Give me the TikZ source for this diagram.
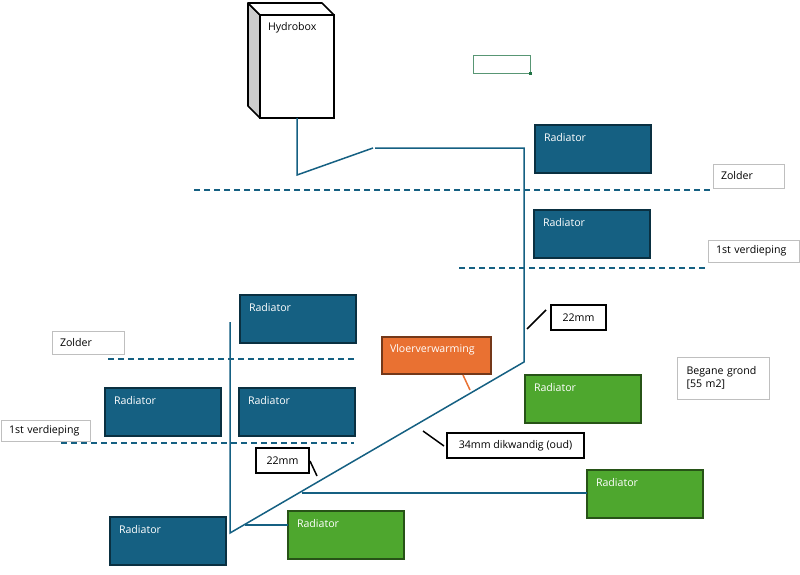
\documentclass[tikz,border=0pt]{standalone}
\usepackage{fontspec}
\setmainfont{Open Sans}
\definecolor{pipeblue}{HTML}{156082}
\definecolor{radgreen}{HTML}{4EA72E}
\definecolor{vloerorange}{HTML}{E97132}
\definecolor{tabgreen}{HTML}{217346}
\begin{document}
\begin{tikzpicture}[
      x=1pt, y=-1pt,
      every node/.style={rectangle, anchor=north west, inner sep=0pt, outer sep=0pt, font=\fontsize{10.6}{12.5}\selectfont},
      rad_text/.style={text=white, anchor=north west, inner xsep=9pt, inner ysep=8pt},
      rad_blue/.style={draw=pipeblue!50!black, line width=1.5pt, fill=pipeblue, minimum width=116pt, minimum height=48pt,
          label={[rad_text]north west:Radiator}},
      rad_green/.style={draw=radgreen!50!black, line width=1.5pt, fill=radgreen, minimum width=116pt, minimum height=48pt,
          label={[rad_text]north west:Radiator}},
      floor_text/.style={draw=black!25, line width=1pt, fill=white, align=left},
      size_text/.style={draw=black, line width=1.5pt, fill=white},
      pipe/.style={draw=pipeblue, line width=1.5pt},
      floor_line/.style={draw=pipeblue, line width=1.5pt, dash pattern=on 6pt off 4pt},
      note_line/.style={draw=black, line width=1.5pt}
  ]
      \useasboundingbox (0,0) rectangle (800,575);

      % Floor lines
      \coordinate (f1a) at (194,190);
      \coordinate (f1b) at (712,190);
      \coordinate (f2a) at (459,268);
      \coordinate (f2b) at (707,268);
      \coordinate (f3a) at (108,359);
      \coordinate (f3b) at (357,359);
      \coordinate (f4a) at (61,443);
      \coordinate (f4b) at (354,443);
      \draw[floor_line] (f1a) -- (f1b);
      \draw[floor_line] (f2a) -- (f2b);
      \draw[floor_line] (f3a) -- (f3b);
      \draw[floor_line] (f4a) -- (f4b);

      % Hydrobox
      \node[draw=black, line width=1.6pt, fill=white, minimum width=74pt, minimum height=103pt] (hydro) at (260,15) {};
      \coordinate (hbackTL) at (248,3);
      \coordinate (hbackTR) at (322,3);
      \coordinate (hbackBL) at (248,106);
      \draw[black, line width=1.6pt, fill=black!20, line join=round] (hydro.north west) -- (hbackTL) -- (hbackBL) -- (hydro.south west) -- cycle;
      \draw[black, line width=1.6pt, fill=white, line join=round] (hydro.north west) -- (hbackTL) -- (hbackTR) -- (hydro.north east) -- cycle;
      \node (hydrotext) at (268,22.5) {Hydrobox};

      % Selected cell
      \node[draw=tabgreen!75, line width=1pt, minimum width=57pt, minimum height=18pt] (cell) at (473,56) {};
      \node[fill=tabgreen, minimum size=3pt, anchor=center] (cellgrip) at (cell.south east) {};

      % Pipes
      \coordinate (p1) at (297,175);
      \coordinate (p2) at (373,148);
      \coordinate (p3) at (375,148);
      \coordinate (p4) at (524,148);
      \coordinate (p5) at (524,362);
      \coordinate (p6) at (230,533);
      \coordinate (p7) at (230,322);
      \coordinate (b1) at (302,493);
      \coordinate (b2) at (245,525);
      \draw[pipe] (hydro.south) -- (p1) -- (p2);
      \draw[pipe] (p3) -- (p4) -- (p5) -- (p6) -- (p7);

      % Blue radiators
      \node[rad_blue] (radA) at (535,125) {};
      \node[rad_blue] (radB) at (534,210) {};
      \node[rad_blue] (radC) at (240,295) {};
      \node[rad_blue] (radD) at (105,388) {};
      \node[rad_blue] (radE) at (239,388) {};
      \node[rad_blue] (radF) at (110,517) {};

      % Green radiators
      \node[rad_green] (radG) at (525,375) {};
      \node[rad_green] (radH) at (587,470) {};
      \node[rad_green] (radI) at (288,511) {};
      \draw[pipe] (b1) -- (b1 -| radH.west);
      \draw[pipe] (b2) -- (b2 -| radI.west);

      % Vloerverwarming
      \node[draw=vloerorange!50!black, line width=1.5pt, fill=vloerorange, text=white, minimum width=109pt, minimum height=37pt] (vloer) at (382,337) {};
      \node[text=white] (vloertext) at (390,344.5) {Vloerverwarming};
      \coordinate (v1) at (463,375);
      \coordinate (v2) at (470,390);
      \draw[vloerorange, line width=1.5pt] (v1) -- (v2);

      % Floor names
      \node[floor_text, minimum width=71pt, minimum height=24pt, text width=62pt, inner xsep=4.5pt] (zolderA) at (713,164) {\ Zolder};
      \node[floor_text, minimum width=91pt, minimum height=22pt, text width=82pt, inner xsep=4.5pt] (verdA) at (708,240) {\ 1st verdieping};
      \node[floor_text, minimum width=72pt, minimum height=23pt, text width=63pt, inner xsep=4.5pt] (zolderB) at (52,331) {\ Zolder};
      \node[floor_text, minimum width=91pt, minimum height=42pt, text width=80pt, inner xsep=6pt] (begane) at (677,357) {\ Begane grond\\\ [55 m2]};
      \node[floor_text, minimum width=89pt, minimum height=21pt, text width=80pt, inner xsep=4.5pt] (verdB) at (1,420) {\ 1st verdieping};

      % Pipe sizes
      \node[size_text, minimum width=55pt, minimum height=25pt] (sizeA) at (551,305) {22mm};
      \node[size_text, minimum width=53pt, minimum height=25pt] (sizeB) at (256,448) {22mm};
      \node[size_text, minimum width=137pt, minimum height=25pt] (sizeC) at (447,433) {34mm dikwandig (oud)};
      \coordinate (nA) at (527,329);
      \coordinate (nAb) at (546,310);
      \coordinate (nB) at (310,461);
      \coordinate (nBb) at (317,476);
      \coordinate (nC) at (423,431);
      \coordinate (nCb) at (444,446);
      \draw[note_line] (nA) -- (nAb);
      \draw[note_line] (nB) -- (nBb);
      \draw[note_line] (nC) -- (nCb);
  \end{tikzpicture}
\end{document}
